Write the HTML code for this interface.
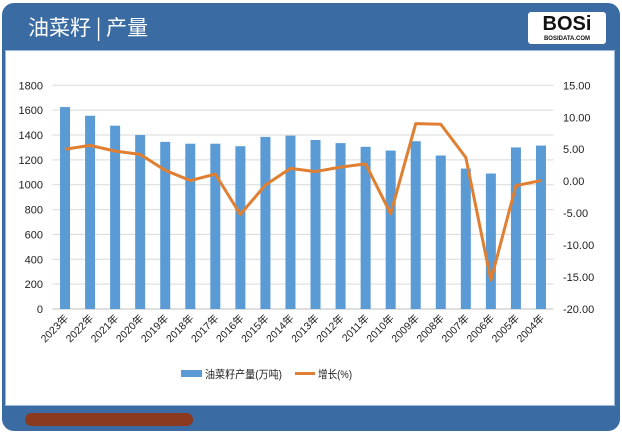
<!DOCTYPE html>
<html><head><meta charset="utf-8"><style>
body{margin:0;width:622px;height:433px;overflow:hidden;background:#fff;font-family:"Liberation Sans","Noto Sans CJK SC",sans-serif}
#frame{position:absolute;left:2px;top:3px;width:618px;height:428px;background:#3a6ba3;border-radius:12px}
#inner{position:absolute;left:5px;top:50px;width:608px;height:354px;background:#fff;border:1px solid #9bb8d8}
#title{position:absolute;left:28px;top:12px;color:#fff;font-size:21px;font-family:"Noto Sans CJK SC",sans-serif}
#logo{position:absolute;left:528px;top:12px;width:78px;height:32px;background:#fff;border-radius:3px;font:bold 20px "Liberation Sans",sans-serif;color:#111;text-align:center;line-height:24px}
#logo small{display:block;font-size:6px;line-height:6px}
#pill{position:absolute;left:25px;top:413px;width:168px;height:13px;background:#8b3a1f;border-radius:7px}
svg{position:absolute;left:0;top:0}
</style></head><body>
<div id="frame"></div>
<div id="inner"></div>
<div id="title">油菜籽 | 产量</div>
<div id="logo">BOSi<small>BOSIDATA.COM</small></div>
<div id="pill"></div>
<svg id="chart" width="622" height="433"></svg>
<script>
const categories=["2023年","2022年","2021年","2020年","2019年","2018年","2017年","2016年","2015年","2014年","2013年","2012年","2011年","2010年","2009年","2008年","2007年","2006年","2005年","2004年"];
const production=[1625,1555,1475,1400,1345,1330,1330,1310,1385,1395,1360,1335,1305,1275,1350,1235,1130,1090,1300,1315];
const growth=[5.0,5.6,4.7,4.2,1.7,0.1,1.1,-5.2,-0.6,2.0,1.5,2.2,2.7,-5.1,9.0,8.9,3.7,-15.5,-0.7,0.1];
const leftTicks=[0,200,400,600,800,1000,1200,1400,1600,1800];
const rightTicks=[-20,-15,-10,-5,0,5,10,15];
const NS="http://www.w3.org/2000/svg",svg=document.getElementById('chart');
const X0=52.5,X1=553.5,Y0=309,Y1=85.3;
const step=(X1-X0)/categories.length;
const xc=i=>X0+step*(i+0.5);
const yL=v=>Y0-(v/1800)*(Y0-Y1);
const yR=v=>Y0-((v+20)/35)*(Y0-Y1);
function mk(t,a,txt){const e=document.createElementNS(NS,t);for(const k in a)e.setAttribute(k,a[k]);if(txt!=null)e.textContent=txt;svg.appendChild(e);return e;}
leftTicks.forEach(v=>{
 const g=mk('line',{x1:X0,x2:X1,y1:yL(v),y2:yL(v),stroke:v?'#d9d9d9':'#bfbfbf','stroke-width':1});
 
 
 const t=mk('text',{x:43,y:yL(v)+4,'text-anchor':'end','font-size':11,fill:'#222'},v);
 
 
});
rightTicks.forEach(v=>{
 const t=mk('text',{x:563,y:yR(v)+4,'font-size':11,fill:'#222'},v.toFixed(2));
 
 
});
production.forEach((v,i)=>{
 const r=mk('rect',{x:xc(i)-5,y:yL(v),width:10,height:Y0-yL(v),fill:'#5b9bd5'});
 
 
});
const pts=growth.map((v,i)=>xc(i)+','+yR(v)).join(' ');
const pl=mk('polyline',{points:pts,fill:'none',stroke:'#e07f32','stroke-width':3,'stroke-linejoin':'round'});


categories.forEach((c,i)=>{
 const x=xc(i)+4,y=Y0+10;
 const t=mk('text',{x:x,y:y,'text-anchor':'end','font-size':10.5,fill:'#222',transform:`rotate(-45 ${x} ${y})`},c);
 
 
});
const lb=mk('rect',{x:181,y:370,width:21,height:7,fill:'#5b9bd5'});


const lt=mk('text',{x:205,y:378,'font-size':11,fill:'#222',textLength:77,lengthAdjust:'spacingAndGlyphs'},'油菜籽产量(万吨)');


const ll=mk('line',{x1:295,x2:315,y1:373.5,y2:373.5,stroke:'#e07f32','stroke-width':3});


const lt2=mk('text',{x:318,y:378,'font-size':11,fill:'#222',textLength:34,lengthAdjust:'spacingAndGlyphs'},'增长(%)');


</script>
</body></html>
